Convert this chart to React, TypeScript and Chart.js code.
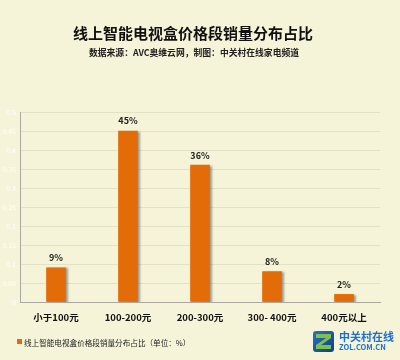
import React, { useEffect, useRef } from "react";
import { Chart, registerables } from "chart.js";

Chart.register(...registerables);

const categories = ["小于100元", "100-200元", "200-300元", "300- 400元", "400元以上"];
const shares = [0.09, 0.45, 0.36, 0.08, 0.02];
const shareLabels = ["9%", "45%", "36%", "8%", "2%"];
const titleText = "线上智能电视盒价格段销量分布占比";
const subtitleText = "数据来源：AVC奥维云网，制图：中关村在线家电频道";
const legendText = "线上智能电视盒价格段销量分布占比（单位：%）";

const BG = "#F5F4D8";
const BAR = "#E36C09";
const FONT = '"Noto Sans CJK SC", "Noto Sans", sans-serif';

const decorPlugin = {
  id: "decor",
  beforeDraw(chart: any) {
    const ctx = chart.ctx;
    ctx.save();
    ctx.fillStyle = BG;
    ctx.fillRect(0, 0, chart.width, chart.height);
    ctx.restore();
  },
  beforeDatasetDraw(chart: any) {
    const ctx = chart.ctx;
    ctx.save();
    ctx.shadowColor = "rgba(0,0,0,0.35)";
    ctx.shadowOffsetX = 2;
    ctx.shadowOffsetY = 1;
    ctx.shadowBlur = 2;
  },
  afterDatasetDraw(chart: any) {
    chart.ctx.restore();
  },
  afterDraw(chart: any) {
    const ctx = chart.ctx;
    ctx.save();
    // title
    ctx.fillStyle = "#111";
    ctx.textAlign = "center";
    ctx.textBaseline = "middle";
    ctx.font = `bold 15px ${FONT}`;
    ctx.fillText(titleText, 193, 33);
    ctx.font = `bold 8.8px ${FONT}`;
    ctx.fillStyle = "#222";
    ctx.fillText(subtitleText, 194, 53);
    // value labels
    const meta = chart.getDatasetMeta(0);
    ctx.font = `bold 9px ${FONT}`;
    ctx.fillStyle = "#222";
    meta.data.forEach((bar: any, i: number) => {
      ctx.fillText(shareLabels[i], bar.x, bar.y - 10);
    });
    // legend
    ctx.fillStyle = BAR;
    ctx.fillRect(17, 339, 5, 5);
    ctx.fillStyle = "#222";
    ctx.textAlign = "left";
    ctx.font = `7.6px ${FONT}`;
    ctx.fillText(legendText, 24, 343);
    // logo
    const lx = 313, ly = 331, ls = 21;
    const g = ctx.createLinearGradient(lx, ly, lx + ls, ly + ls);
    g.addColorStop(0, "#2A6FC9");
    g.addColorStop(1, "#0D3F8F");
    ctx.fillStyle = g;
    ctx.beginPath();
    ctx.roundRect(lx, ly, ls, ls, 3);
    ctx.fill();
    ctx.fillStyle = "#7DC242";
    ctx.beginPath();
    ctx.moveTo(lx + 3, ly + 3);
    ctx.lineTo(lx + ls - 3, ly + 3);
    ctx.lineTo(lx + ls - 3, ly + 7);
    ctx.lineTo(lx + 8, ly + ls - 7);
    ctx.lineTo(lx + ls - 3, ly + ls - 7);
    ctx.lineTo(lx + ls - 3, ly + ls - 3);
    ctx.lineTo(lx + 3, ly + ls - 3);
    ctx.lineTo(lx + 3, ly + ls - 7);
    ctx.lineTo(lx + ls - 8, ly + 7);
    ctx.lineTo(lx + 3, ly + 7);
    ctx.closePath();
    ctx.fill();
    ctx.fillStyle = "#1E6FD0";
    ctx.font = `bold 11px ${FONT}`;
    ctx.textBaseline = "middle";
    ctx.fillText("中关村在线", 339, 337);
    ctx.font = `bold 7.5px ${FONT}`;
    ctx.fillText("ZOL.COM.CN", 339, 347);
    ctx.restore();
  },
};

export default function App() {
  const ref = useRef<HTMLCanvasElement>(null);
  useEffect(() => {
    document.body.style.margin = "0";
    const chart = new Chart(ref.current!, {
      type: "bar",
      data: {
        labels: categories,
        datasets: [
          {
            label: legendText,
            data: shares,
            backgroundColor: BAR,
            borderWidth: 0,
            barThickness: 19,
          },
        ],
      },
      options: {
        animation: false,
        responsive: false,
        layout: { padding: { top: 112, right: 20, left: 0, bottom: 0 } },
        plugins: {
          legend: { display: false },
          tooltip: { enabled: false },
          title: { display: false },
        },
        scales: {
          x: {
            grid: { display: false, drawTicks: false },
            border: { display: true, color: "#A8A8A0", width: 1 },
            ticks: {
              color: "#111",
              padding: 10,
              maxRotation: 0,
              font: { family: FONT, size: 9.5, weight: "bold" },
            },
            afterFit: (s: any) => {
              s.height = 58;
            },
          },
          y: {
            min: 0,
            max: 0.5,
            grid: { color: "#E4E2C4", drawTicks: false },
            border: { display: true, color: "#A8A8A0", width: 1 },
            ticks: {
              stepSize: 0.05,
              color: "#FFFFFF",
              padding: 4,
              font: { family: FONT, size: 7 },
              callback: (v: any) => String(Math.round(Number(v) * 100) / 100),
            },
            afterFit: (s: any) => {
              s.width = 20;
            },
          },
        },
      },
      plugins: [decorPlugin],
    });
    return () => chart.destroy();
  }, []);
  return (
    <div style={{ width: 400, height: 360, background: BG }}>
      <canvas ref={ref} width={400} height={360} style={{ display: "block" }} />
    </div>
  );
}
